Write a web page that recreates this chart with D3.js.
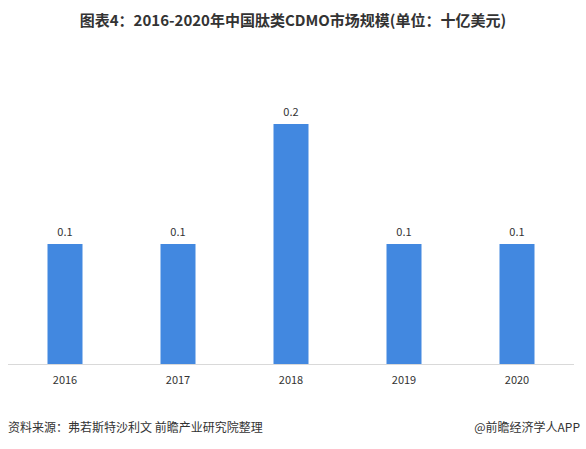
<!DOCTYPE html>
<html><head><meta charset="utf-8">
<script src="https://cdn.jsdelivr.net/npm/d3@7"></script>
<style>body{margin:0;background:#fff}</style>
</head><body>
<script>
const years = ['2016', '2017', '2018', '2019', '2020'];
const values = [0.1, 0.1, 0.2, 0.1, 0.1];
const labels = ['0.1', '0.1', '0.2', '0.1', '0.1'];

const width = 586, height = 449;
const svg = d3.select('body').append('svg')
  .attr('width', width).attr('height', height)
  .style('font-family', '"Noto Sans CJK SC", "Noto Sans", sans-serif');

// title
svg.append('text').attr('x', width / 2).attr('y', 26)
  .attr('text-anchor', 'middle').attr('font-size', 15).attr('font-weight', 'bold')
  .attr('fill', '#333').text('图表4：2016-2020年中国肽类CDMO市场规模(单位：十亿美元)');

const x = d3.scalePoint().domain(years).range([8.5, 573.5]).padding(0.5);
const y = d3.scaleLinear().domain([0, 0.2]).range([364, 124]);
const bw = 35;

svg.append('line').attr('x1', 8).attr('x2', 574)
  .attr('y1', y(0) + 0.5).attr('y2', y(0) + 0.5).attr('stroke', '#d9d9d9');

svg.selectAll('rect.bar').data(values).join('rect')
  .attr('class', 'bar')
  .attr('x', (d, i) => x(years[i]) - bw / 2)
  .attr('y', d => y(d))
  .attr('width', bw)
  .attr('height', d => y(0) - y(d))
  .attr('fill', '#4288e0');

svg.selectAll('text.val').data(values).join('text')
  .attr('class', 'val')
  .attr('x', (d, i) => x(years[i]))
  .attr('y', d => y(d) - 8)
  .attr('text-anchor', 'middle').attr('font-size', 11).attr('fill', '#333')
  .text((d, i) => labels[i]);

svg.selectAll('text.yr').data(years).join('text')
  .attr('class', 'yr')
  .attr('x', d => x(d)).attr('y', 384)
  .attr('text-anchor', 'middle').attr('font-size', 11).attr('fill', '#333')
  .text(d => d);

// footer
svg.append('text').attr('x', 8).attr('y', 432).attr('font-size', 12).attr('fill', '#333')
  .text('资料来源：弗若斯特沙利文 前瞻产业研究院整理');
svg.append('text').attr('x', 580).attr('y', 432).attr('text-anchor', 'end')
  .attr('font-size', 12).attr('fill', '#333').text('@前瞻经济学人APP');
</script>
</body></html>
